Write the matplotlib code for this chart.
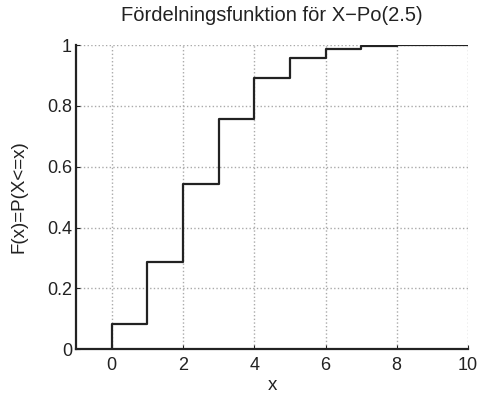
import numpy as np
import matplotlib
matplotlib.use("Agg")
import matplotlib.pyplot as plt

# Step values
x_vals = [0, 1, 2, 3, 4, 5, 6, 7, 8, 9, 10]
cdf_vals = [0.082, 0.287, 0.544, 0.758, 0.891, 0.958, 0.986, 0.996, 0.999, 1.0, 1.0]
x_ticks = [0, 2, 4, 6, 8, 10]
y_ticks = [0, 0.2, 0.4, 0.6, 0.8, 1]
y_tick_labels = ["0", "0.2", "0.4", "0.6", "0.8", "1"]

plt.rcParams['font.family'] = ['Liberation Sans', 'DejaVu Sans']

fig = plt.figure(figsize=(4.79, 3.99), dpi=100)
ax = fig.add_axes([0.159, 0.125, 0.818, 0.762])

# Vertical jump at x=0 from 0, then step
xs = [x_vals[0]] + x_vals
ys = [0] + cdf_vals
ax.step(xs, ys, where='post', color='#222222', linewidth=1.6)

ax.set_xlim(-1, 10)
ax.set_ylim(0, 1)
ax.set_xticks(x_ticks)
ax.set_yticks(y_ticks)
ax.set_yticklabels(y_tick_labels)
ax.grid(True, linestyle=':', color='#aaaaaa', linewidth=1)
ax.tick_params(direction='in', labelsize=13, length=3, colors='#222222')
ax.tick_params(axis='x', pad=6)
ax.tick_params(axis='y', pad=3)
ax.spines['top'].set_visible(False)
ax.spines['right'].set_visible(False)
for s in ('left', 'bottom'):
    ax.spines[s].set_linewidth(1.6)
    ax.spines[s].set_color('#222222')

ax.set_title('Fördelningsfunktion för X\u2212Po(2.5)', fontsize=14.5, pad=17, color='#222222')
ax.set_xlabel('x', fontsize=13.5, labelpad=2, color='#222222')
ax.set_ylabel('F(x)=P(X<=x)', fontsize=13.5, labelpad=14, color='#222222')

fig.savefig('out.png', dpi=100)
